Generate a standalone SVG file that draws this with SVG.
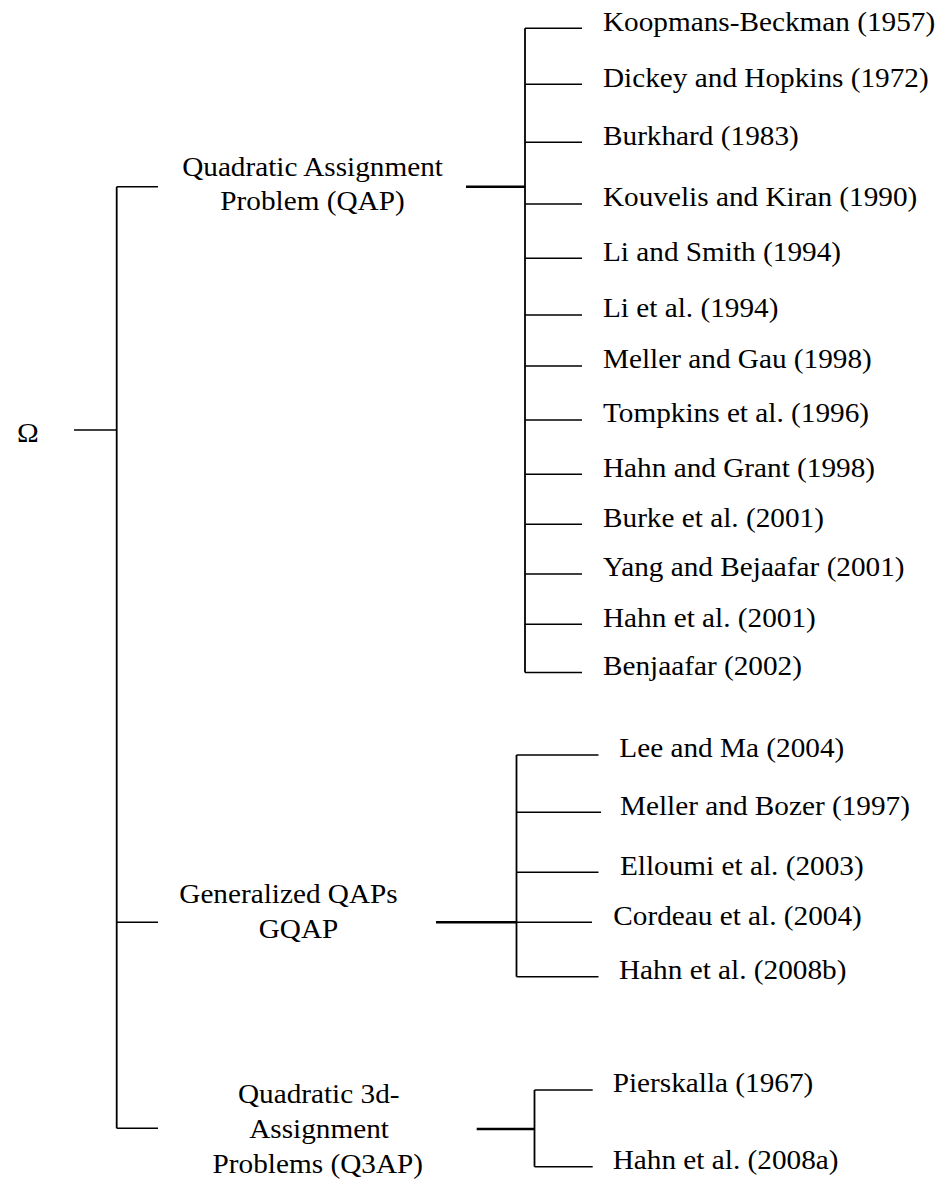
<svg xmlns="http://www.w3.org/2000/svg" width="943" height="1179" viewBox="0 0 943 1179">
  <style>
    .t { font-family: "Liberation Serif", "Times New Roman", serif; font-size: 28px; fill: #000; }
    .c { text-anchor: middle; }
    .br { stroke: #000; stroke-width: 1.5; fill: none; }
    .trunk { stroke: #000; stroke-width: 1.8; fill: none; }
    .link { stroke: #000; stroke-width: 2.6; fill: none; }
  </style>
  <rect width="943" height="1179" fill="#fff"/>

  <!-- connectors -->
  <g id="connectors">
    <!-- root: Omega to the three problem families -->
    <line class="br" x1="74" y1="430" x2="116.7" y2="430"/>
    <line class="trunk" x1="116.7" y1="186.7" x2="116.7" y2="1128.3"/>
    <line class="br" x1="116.7" y1="186.7" x2="158" y2="186.7"/>
    <line class="br" x1="116.7" y1="922.3" x2="158" y2="922.3"/>
    <line class="br" x1="116.7" y1="1128.3" x2="158" y2="1128.3"/>

    <!-- QAP references -->
    <line class="link" x1="466" y1="186.7" x2="525" y2="186.7"/>
    <line class="trunk" x1="525" y1="28.3" x2="525" y2="672.5"/>
    <g class="br">
      <line x1="525" y1="28.3" x2="582" y2="28.3"/>
      <line x1="525" y1="84.3" x2="582" y2="84.3"/>
      <line x1="525" y1="142.3" x2="582" y2="142.3"/>
      <line x1="525" y1="204" x2="582" y2="204"/>
      <line x1="525" y1="258.3" x2="582" y2="258.3"/>
      <line x1="525" y1="315" x2="582" y2="315"/>
      <line x1="525" y1="366" x2="582" y2="366"/>
      <line x1="525" y1="420" x2="582" y2="420"/>
      <line x1="525" y1="474.3" x2="582" y2="474.3"/>
      <line x1="525" y1="524.3" x2="582" y2="524.3"/>
      <line x1="525" y1="574" x2="582" y2="574"/>
      <line x1="525" y1="624.3" x2="582" y2="624.3"/>
      <line x1="525" y1="672.5" x2="582" y2="672.5"/>
    </g>

    <!-- GQAP references -->
    <line class="link" x1="436" y1="922.3" x2="516.5" y2="922.3"/>
    <line class="trunk" x1="516.5" y1="755" x2="516.5" y2="976.7"/>
    <g class="br">
      <line x1="516.5" y1="755" x2="598.5" y2="755"/>
      <line x1="516.5" y1="812.3" x2="601" y2="812.3"/>
      <line x1="516.5" y1="872.3" x2="598.5" y2="872.3"/>
      <line x1="516.5" y1="922.3" x2="592" y2="922.3"/>
      <line x1="516.5" y1="976.7" x2="598.5" y2="976.7"/>
    </g>

    <!-- Q3AP references -->
    <line class="link" x1="476.7" y1="1129" x2="534.5" y2="1129"/>
    <line class="trunk" x1="534.5" y1="1090" x2="534.5" y2="1166.7"/>
    <line class="br" x1="534.5" y1="1090" x2="592.7" y2="1090"/>
    <line class="br" x1="534.5" y1="1166.7" x2="592.7" y2="1166.7"/>
  </g>

  <!-- root -->
  <g id="root">
    <text class="t" transform="translate(17,442) scale(1.045,1)">Ω</text>
  </g>

  <!-- problem families -->
  <g id="qap">
    <text class="t c" transform="translate(312.5,175.5) scale(1.045,1)">Quadratic Assignment</text>
    <text class="t c" transform="translate(312.5,209.5) scale(1.045,1)">Problem (QAP)</text>
  </g>
  <g id="gqap">
    <text class="t c" transform="translate(288.5,902.5) scale(1.045,1)">Generalized QAPs</text>
    <text class="t c" transform="translate(298.5,937.5) scale(1.045,1)">GQAP</text>
  </g>
  <g id="q3ap">
    <text class="t c" transform="translate(318.7,1102.5) scale(1.045,1)">Quadratic 3d-</text>
    <text class="t c" transform="translate(319,1137.5) scale(1.045,1)">Assignment</text>
    <text class="t c" transform="translate(317.8,1172.5) scale(1.045,1)">Problems (Q3AP)</text>
  </g>

  <!-- QAP literature -->
  <g id="ref-koopmans"><text class="t" transform="translate(603,30.5) scale(1.045,1)">Koopmans-Beckman (1957)</text></g>
  <g id="ref-dickey"><text class="t" transform="translate(603,86.5) scale(1.045,1)">Dickey and Hopkins (1972)</text></g>
  <g id="ref-burkhard"><text class="t" transform="translate(603,144.5) scale(1.045,1)">Burkhard (1983)</text></g>
  <g id="ref-kouvelis"><text class="t" transform="translate(603,206.2) scale(1.045,1)">Kouvelis and Kiran (1990)</text></g>
  <g id="ref-li-smith"><text class="t" transform="translate(603,260.5) scale(1.045,1)">Li and Smith (1994)</text></g>
  <g id="ref-li"><text class="t" transform="translate(603,317.2) scale(1.045,1)">Li et al. (1994)</text></g>
  <g id="ref-meller-gau"><text class="t" transform="translate(603,368.2) scale(1.045,1)">Meller and Gau (1998)</text></g>
  <g id="ref-tompkins"><text class="t" transform="translate(603,422.2) scale(1.045,1)">Tompkins et al. (1996)</text></g>
  <g id="ref-hahn-grant"><text class="t" transform="translate(603,476.5) scale(1.045,1)">Hahn and Grant (1998)</text></g>
  <g id="ref-burke"><text class="t" transform="translate(603,526.5) scale(1.045,1)">Burke et al. (2001)</text></g>
  <g id="ref-yang"><text class="t" transform="translate(603,576.2) scale(1.045,1)">Yang and Bejaafar (2001)</text></g>
  <g id="ref-hahn-2001"><text class="t" transform="translate(603,626.5) scale(1.045,1)">Hahn et al. (2001)</text></g>
  <g id="ref-benjaafar"><text class="t" transform="translate(603,674.7) scale(1.045,1)">Benjaafar (2002)</text></g>

  <!-- GQAP literature -->
  <g id="ref-lee-ma"><text class="t" transform="translate(619.3,757.2) scale(1.045,1)">Lee and Ma (2004)</text></g>
  <g id="ref-meller-bozer"><text class="t" transform="translate(620,814.5) scale(1.045,1)">Meller and Bozer (1997)</text></g>
  <g id="ref-elloumi"><text class="t" transform="translate(620,874.5) scale(1.045,1)">Elloumi et al. (2003)</text></g>
  <g id="ref-cordeau"><text class="t" transform="translate(613.3,924.5) scale(1.045,1)">Cordeau et al. (2004)</text></g>
  <g id="ref-hahn-2008b"><text class="t" transform="translate(619,978.9) scale(1.045,1)">Hahn et al. (2008b)</text></g>

  <!-- Q3AP literature -->
  <g id="ref-pierskalla"><text class="t" transform="translate(612.7,1092.2) scale(1.045,1)">Pierskalla (1967)</text></g>
  <g id="ref-hahn-2008a"><text class="t" transform="translate(612.7,1168.7) scale(1.045,1)">Hahn et al. (2008a)</text></g>
</svg>
